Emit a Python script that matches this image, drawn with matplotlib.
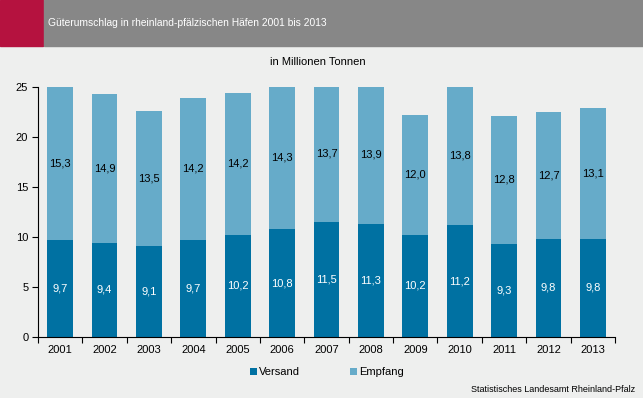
import numpy as np
import matplotlib.pyplot as plt
from matplotlib.patches import Rectangle

plt.rcParams['font.family'] = ['Liberation Sans', 'DejaVu Sans']

years = ["2001", "2002", "2003", "2004", "2005", "2006", "2007",
         "2008", "2009", "2010", "2011", "2012", "2013"]
versand = [9.7, 9.4, 9.1, 9.7, 10.2, 10.8, 11.5, 11.3, 10.2, 11.2, 9.3, 9.8, 9.8]
empfang = [15.3, 14.9, 13.5, 14.2, 14.2, 14.3, 13.7, 13.9, 12.0, 13.8, 12.8, 12.7, 13.1]

c_versand = "#0071A2"
c_empfang = "#66ABC9"
bg = "#EEEFEE"

W, H = 643, 398
fig = plt.figure(figsize=(W / 100, H / 100), dpi=100, facecolor=bg)

# header band
fig.patches.append(Rectangle((0, 1 - 46 / H), 43 / W, 46 / H, transform=fig.transFigure,
                             color="#B5123F", zorder=0))
fig.patches.append(Rectangle((44 / W, 1 - 46 / H), 1 - 44 / W, 46 / H, transform=fig.transFigure,
                             color="#878787", zorder=0))
fig.text(48 / W, 1 - 23 / H, "Güterumschlag in rheinland-pfälzischen Häfen 2001 bis 2013",
         color="white", fontsize=7.4, va="center", ha="left")

ax = fig.add_axes([38 / W, 1 - 337 / H, (615 - 38) / W, (337 - 87) / H])
ax.set_facecolor(bg)

x = np.arange(len(years))
v = np.array(versand)
e = np.array(empfang)
ax.bar(x, v, width=0.58, color=c_versand, label="Versand")
ax.bar(x, e, width=0.58, bottom=v, color=c_empfang, label="Empfang")

for i in range(len(years)):
    ax.text(x[i], v[i] / 2, f"{v[i]:.1f}".replace(".", ","), ha="center", va="center",
            color="white", fontsize=8)
    ax.text(x[i], v[i] + e[i] / 2, f"{e[i]:.1f}".replace(".", ","), ha="center", va="center",
            color="black", fontsize=8)

ax.set_xlim(-0.5, len(years) - 0.5)
ax.set_ylim(0, 25)
ax.set_yticks(range(0, 26, 5))
ax.tick_params(axis="y", labelsize=8, length=4, direction="out", pad=3)
ax.set_xticks(np.arange(-0.5, len(years), 1))
ax.set_xticklabels([])
ax.tick_params(axis="x", length=4, direction="out")
ax.set_xticks(x, minor=True)
ax.set_xticklabels(years, minor=True, fontsize=8)
ax.tick_params(axis="x", which="minor", length=0, pad=6)
for s in ["top", "right"]:
    ax.spines[s].set_visible(False)

fig.text(318 / W, 1 - 62 / H, "in Millionen Tonnen", ha="center", va="center", fontsize=8)

fig.legend(loc="center", bbox_to_anchor=(327 / W, 1 - 372 / H), ncol=2, frameon=False,
           fontsize=8, handlelength=0.6, handleheight=0.6, handletextpad=0.2, columnspacing=4.5)

fig.text(635 / W, 1 - 389 / H, "Statistisches Landesamt Rheinland-Pfalz", ha="right",
         va="center", fontsize=6.5)

fig.savefig("out.png", dpi=100, facecolor=bg)
